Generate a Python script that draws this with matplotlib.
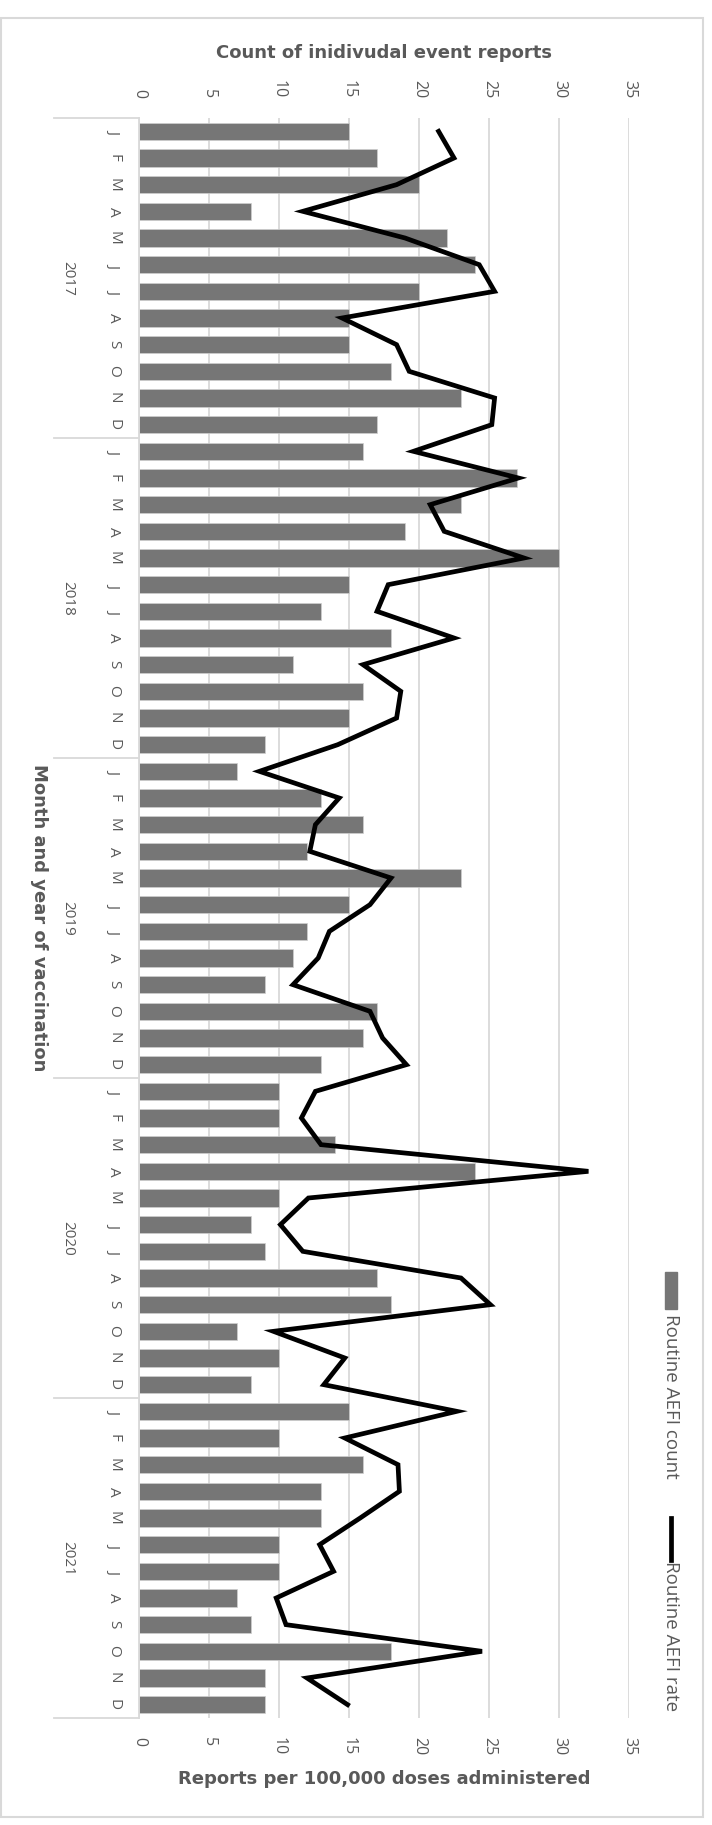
import numpy as np
import matplotlib
matplotlib.use("Agg")
import matplotlib.pyplot as plt
from matplotlib.patches import Rectangle
from matplotlib.lines import Line2D
import matplotlib.transforms as mtransforms

# --- Data ---
years = ["2017", "2018", "2019", "2020", "2021"]
month_letters = ["J", "F", "M", "A", "M", "J", "J", "A", "S", "O", "N", "D"]

aefi_count = [
    15, 17, 20, 8, 22, 24, 20, 15, 15, 18, 23, 17,   # 2017
    16, 27, 23, 19, 30, 15, 13, 18, 11, 16, 15, 9,   # 2018
    7, 13, 16, 12, 23, 15, 12, 11, 9, 17, 16, 13,    # 2019
    10, 10, 14, 24, 10, 8, 9, 17, 18, 7, 10, 8,      # 2020
    15, 10, 16, 13, 13, 10, 10, 7, 8, 18, 9, 9,      # 2021
]
aefi_rate = [
    21.4, 22.5, 18.4, 11.7, 19.0, 24.3, 25.4, 14.5, 18.4, 19.3, 25.4, 25.2,
    19.6, 27.1, 20.8, 21.8, 27.5, 17.8, 17.0, 22.5, 16.0, 18.7, 18.4, 14.2,
    8.6, 14.3, 12.6, 12.2, 18.0, 16.5, 13.6, 12.8, 11.0, 16.5, 17.4, 19.1,
    12.6, 11.6, 13.0, 32.1, 12.1, 10.1, 11.7, 23.0, 25.1, 9.6, 14.7, 13.2,
    22.7, 14.7, 18.5, 18.6, 15.8, 12.9, 13.9, 9.8, 10.5, 24.5, 12.0, 14.9,
]
value_ticks = [0, 5, 10, 15, 20, 25, 30, 35]

# --- Styling ---
W, H = 712, 1825
bar_color = "#767676"
grid_color = "#d9d9d9"
text_color = "#595959"
plt.rcParams["font.family"] = ["Open Sans", "DejaVu Sans"]

fig = plt.figure(figsize=(W / 100, H / 100), dpi=100)

# plot area in pixel coordinates
x0, x1 = 139, 629
y_top, y_bot = 118, 1718
ax = fig.add_axes([x0 / W, 1 - y_bot / H, (x1 - x0) / W, (y_bot - y_top) / H])

n = len(aefi_count)
pos = np.arange(n)
labels = [month_letters[i % 12] for i in range(n)]

ax.barh(pos, aefi_count, height=0.66, color=bar_color, edgecolor="#cfcfcf",
        linewidth=0.5, zorder=2, label="Routine AEFI count")
ax.plot(aefi_rate, pos, color="black", lw=3.4, zorder=3,
        solid_joinstyle="miter", label="Routine AEFI rate")

ax.set_xlim(0, 35)
ax.set_ylim(n - 0.5, -0.5)
ax.set_xticks(value_ticks)
ax.set_xticklabels([str(v) for v in value_ticks], rotation=-90, va="top",
                   ha="center", fontsize=11.5, color=text_color)
ax.tick_params(axis="x", length=0, pad=14)
ax.set_yticks(pos)
ax.set_yticklabels(labels, rotation=-90, ha="center", va="center",
                   fontsize=11, color=text_color)
ax.tick_params(axis="y", length=0, pad=18)
ax.grid(axis="x", color=grid_color, lw=1.3, zorder=0)
for s in ["top", "right", "bottom"]:
    ax.spines[s].set_visible(False)
ax.spines["left"].set_color(grid_color)
ax.spines["left"].set_linewidth(1.3)

ax.set_xlabel("Reports per 100,000 doses administered", fontsize=13,
              fontweight="bold", color=text_color, family="DejaVu Sans", labelpad=10)

# top axis for the count scale
top = ax.secondary_xaxis("top")
top.set_xticks(value_ticks)
top.set_xticklabels([str(v) for v in value_ticks], rotation=-90, va="bottom",
                    ha="center", fontsize=11.5, color=text_color)
top.tick_params(length=0, pad=14)
top.spines["top"].set_visible(False)
top.set_xlabel("Count of inidivudal event reports", fontsize=13,
               fontweight="bold", color=text_color, family="DejaVu Sans", labelpad=16)

ax.set_ylabel("Month and year of vaccination", rotation=-90, fontsize=13,
              fontweight="bold", color=text_color, family="DejaVu Sans")
ax.yaxis.set_label_coords((30 - x0) / (x1 - x0), 0.5)

# year grouping: labels and separators
blend = mtransforms.blended_transform_factory(ax.transAxes, ax.transData)
sep_x = (54 - x0) / (x1 - x0)
for k, yr in enumerate(years):
    ax.text((68 - x0) / (x1 - x0), 12 * k + 5.5, yr, transform=blend,
            rotation=-90, ha="center", va="center", fontsize=11, color=text_color)
for k in range(len(years) + 1):
    ax.plot([sep_x, 0], [12 * k - 0.5, 12 * k - 0.5], transform=blend,
            color=grid_color, lw=1.3, clip_on=False)

# legend (rotated, drawn by hand)
pix = lambda x, y: (x / W, 1 - y / H)
lx = 671
fig.patches.append(Rectangle(pix(lx - 6, 1309), 12 / W, 37 / H,
                             transform=fig.transFigure, color=bar_color))
fig.text(*pix(lx, 1314), "Routine AEFI count", rotation=-90, ha="center",
         va="top", fontsize=13.5, color=text_color)
fig.lines.append(Line2D([lx / W, lx / W], [1 - 1518 / H, 1 - 1560 / H],
                        transform=fig.transFigure, color="black", lw=3.4))
fig.text(*pix(lx, 1561), "Routine AEFI rate", rotation=-90, ha="center",
         va="top", fontsize=13.5, color=text_color)

# outer frame
fig.patches.append(Rectangle(pix(1, 1817), 702 / W, 1799 / H,
                             transform=fig.transFigure, fill=False,
                             edgecolor=grid_color, lw=1.5))

fig.savefig("out.png", dpi=100, facecolor="white")
